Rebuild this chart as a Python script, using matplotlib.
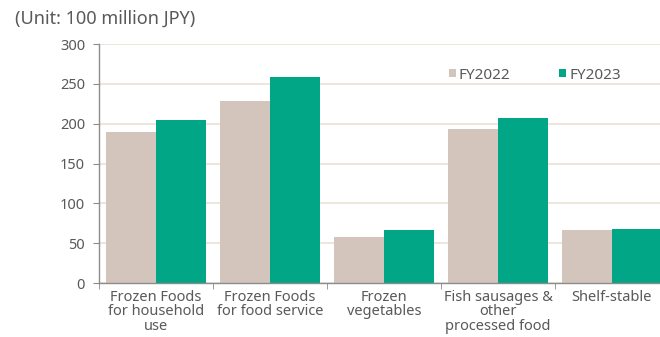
import matplotlib.pyplot as plt
import numpy as np

plt.rcParams['font.family'] = ['Noto Sans', 'DejaVu Sans']

categories = ['Frozen Foods\nfor household\nuse', 'Frozen Foods\nfor food service',
              'Frozen\nvegetables', 'Fish sausages &\nother\nprocessed food', 'Shelf-stable']
fy2022 = [190, 229, 58, 193, 67]
fy2023 = [204, 258, 66, 207, 68]
yticks = [0, 50, 100, 150, 200, 250, 300]

c22 = '#d3c5bc'
c23 = '#00a686'
txt = '#595959'

fig = plt.figure(figsize=(6.6, 3.37), dpi=100)
ax = fig.add_axes([0.15, 0.1602, 0.8636, 0.7092])

x = np.arange(len(categories))
w = 0.435
ax.bar(x - w / 2, fy2022, w, color=c22, label='FY2022', zorder=2)
ax.bar(x + w / 2, fy2023, w, color=c23, label='FY2023', zorder=2)

ax.set_xlim(-0.5, len(categories) - 0.5)
ax.set_ylim(0, 300)
ax.set_yticks(yticks)
ax.yaxis.grid(True, color='#e9e1d7', lw=1.2, zorder=0)
ax.set_axisbelow(True)

ax.set_xticks(x)
ax.set_xticklabels(categories, fontsize=10.5, color=txt, linespacing=0.95)
ax.set_xticks(np.arange(len(categories) + 1) - 0.5, minor=True)
ax.tick_params(axis='x', which='major', length=0, pad=5)
ax.tick_params(axis='x', which='minor', length=4, color='#8c8c8c')
ax.tick_params(axis='y', length=4, color='#8c8c8c', labelcolor=txt, labelsize=10.5, pad=6)

for s in ['top', 'right']:
    ax.spines[s].set_visible(False)
for s in ['left', 'bottom']:
    ax.spines[s].set_color('#8c8c8c')
    ax.spines[s].set_linewidth(1.0)

leg = ax.legend(loc='center left', bbox_to_anchor=(0.614, 0.869), ncol=2, frameon=False,
                handlelength=0.45, handleheight=0.45, handletextpad=0.2, columnspacing=3.2,
                fontsize=11, borderaxespad=0, borderpad=0)
for t in leg.get_texts():
    t.set_color(txt)

fig.text(0.022, 0.945, '(Unit: 100 million JPY)', fontsize=13, color=txt, va='center')

fig.savefig('out.png', dpi=100)
